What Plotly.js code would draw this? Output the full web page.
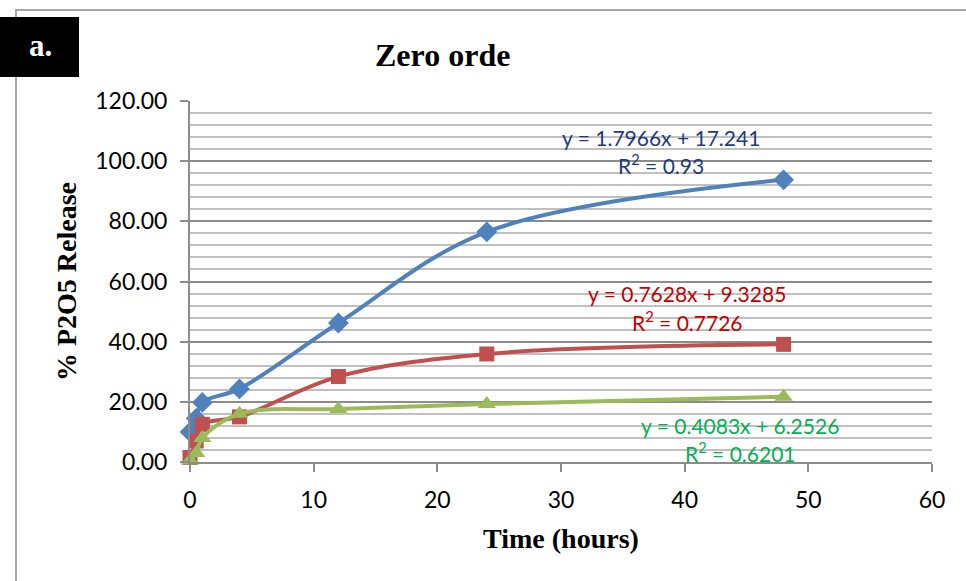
<!DOCTYPE html>
<html><head><meta charset="utf-8">
<script src="https://cdn.plot.ly/plotly-3.0.1.min.js"></script>
<style>html,body{margin:0;padding:0;background:#fff;}#chart{width:966px;height:581px;}</style>
</head><body><div id="chart"></div>
<script>
const timeHours = [0, 0.5, 1, 4, 12, 24, 48];
const seriesBlue = [10, 14.5, 19.8, 24.3, 46.2, 76.5, 93.8];
const seriesRed = [1.5, 7, 12.5, 15, 28.4, 35.9, 39.1];
const seriesGreen = [0.5, 3, 8, 16, 17.6, 19.3, 21.7];
const eqBlue = ["y = 1.7966x + 17.241", "R<sup>2</sup> = 0.93"];
const eqRed = ["y = 0.7628x + 9.3285", "R<sup>2</sup> = 0.7726"];
const eqGreen = ["y = 0.4083x + 6.2526", "R<sup>2</sup> = 0.6201"];
const yTicks = [0, 20, 40, 60, 80, 100, 120];
const yTickText = yTicks.map(v => v.toFixed(2));

// pixel helpers for placing decorations outside the plot area
const L = 190, R = 932, T = 101, B = 462, W = 966, H = 581;
const px = x => (x - L) / (R - L);
const py = y => (B - y) / (B - T);

const mk = (y, color, symbol, size) => ({
  x: timeHours, y: y, type: 'scatter', mode: 'lines+markers',
  line: {color: color, width: 4, shape: 'spline', smoothing: 1},
  marker: {color: color, symbol: symbol, size: size},
  cliponaxis: false, showlegend: false
});

const data = [
  mk(seriesBlue, '#4f81bd', 'diamond', 16),
  mk(seriesRed, '#c0504d', 'square', 15),
  mk(seriesGreen, '#9bbb59', 'triangle-up', 16)
];

const sans = 'Lato, Carlito, Calibri, sans-serif';
const serif = '"Liberation Serif", "Times New Roman", serif';
const eqFont = c => ({family: sans, size: 21, color: c});
const ann = (text, x, y, font, extra) => Object.assign({
  text: text, xref: 'paper', yref: 'paper', x: px(x), y: py(y),
  xanchor: 'center', yanchor: 'middle', showarrow: false, font: font
}, extra || {});

const layout = {
  width: W, height: H,
  margin: {l: L, r: W - R, t: T, b: H - B, pad: 0},
  paper_bgcolor: '#ffffff', plot_bgcolor: '#ffffff',
  showlegend: false,
  xaxis: {
    range: [0, 60], dtick: 10, tick0: 0,
    showgrid: false, zeroline: false,
    showline: true, linecolor: '#8c8c8c', linewidth: 2,
    ticks: 'outside', ticklen: 8, tickcolor: '#8c8c8c', tickwidth: 2,
    ticklabelstandoff: 8,
    tickfont: {family: sans, size: 23, color: '#000'},
    title: {text: 'Time (hours)', font: {family: serif, size: 28, color: '#000', weight: 'bold'}, standoff: 17}
  },
  yaxis: {
    range: [0, 120], tickvals: yTicks, ticktext: yTickText,
    showgrid: true, gridcolor: '#8c8c8c', gridwidth: 2,
    minor: {dtick: 4, showgrid: true, gridcolor: '#c0c0c0', gridwidth: 2, ticks: ''},
    zeroline: false,
    showline: true, linecolor: '#8c8c8c', linewidth: 2,
    ticks: 'outside', ticklen: 8, tickcolor: '#8c8c8c', tickwidth: 2,
    ticklabelstandoff: 8,
    tickfont: {family: sans, size: 23, color: '#000'},
    title: {text: '% P2O5 Release', font: {family: serif, size: 28, color: '#000', weight: 'bold'}, standoff: 10}
  },
  shapes: [
    {type: 'rect', xref: 'paper', yref: 'paper', x0: px(16), x1: px(990), y0: py(10), y1: py(600),
     line: {color: '#a6a6a6', width: 2}, fillcolor: 'rgba(0,0,0,0)', layer: 'below'},
    {type: 'rect', xref: 'paper', yref: 'paper', x0: px(0), x1: px(79), y0: py(17), y1: py(77),
     line: {width: 0}, fillcolor: '#000000', layer: 'above'}
  ],
  annotations: [
    ann('a.', 40, 46, {family: serif, size: 31, color: '#ffffff', weight: 'bold'}),
    ann('Zero orde', 442, 55, {family: serif, size: 32, color: '#000', weight: 'bold'}),
    ann(eqBlue[0], 661, 137, eqFont('#1f3a7a')),
    ann(eqBlue[1], 661, 164, eqFont('#1f3a7a')),
    ann(eqRed[0], 687, 293, eqFont('#c00000')),
    ann(eqRed[1], 687, 321, eqFont('#c00000')),
    ann(eqGreen[0], 740, 425, eqFont('#00b050')),
    ann(eqGreen[1], 740, 452, eqFont('#00b050'))
  ]
};

Plotly.newPlot('chart', data, layout, {displayModeBar: false, staticPlot: true});
</script></body></html>
